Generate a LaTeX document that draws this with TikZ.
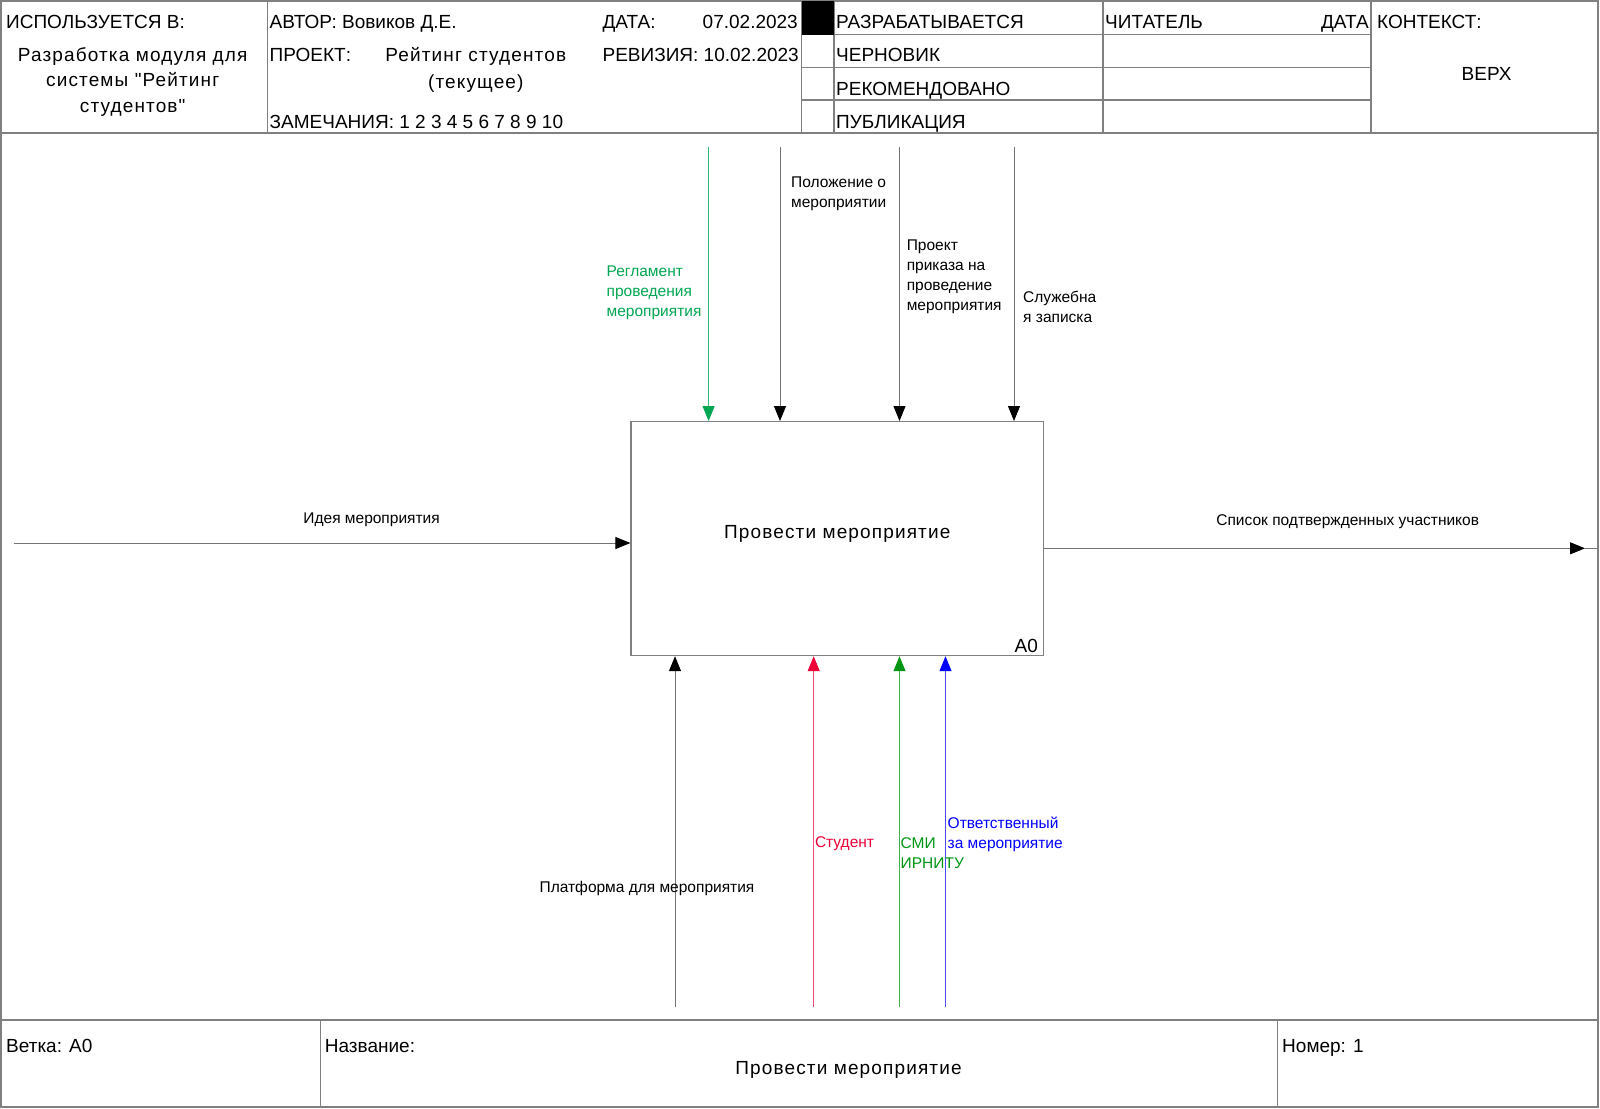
\documentclass[tikz,border=0pt]{standalone}
\usepackage{fontspec}
\setmainfont{Liberation Sans}
\newfontfamily\spacedfont[LetterSpace=6]{Liberation Sans}
\usepackage{tikz}
\usetikzlibrary{arrows.meta,positioning,calc}
\definecolor{reglgreen}{RGB}{0,166,81}
\definecolor{smigreen}{RGB}{0,150,20}
\definecolor{studred}{RGB}{235,0,55}
\definecolor{otvblue}{RGB}{0,0,255}
\tikzstyle{rule}=[draw=black!50,line width=1.2pt]
\tikzstyle{head}=[font=\fontsize{19}{25.5}\selectfont,inner sep=0pt,anchor=base west]
\tikzstyle{headwide}=[font=\fontsize{19}{25.5}\spacedfont,inner sep=0pt,align=center]
\tikzstyle{lbl}=[font=\fontsize{15.5}{20}\selectfont,inner sep=0pt,align=left]
\tikzstyle{func}=[draw=black!50,line width=1.2pt,minimum width=412.5pt,minimum height=234pt,inner sep=0pt]
\tikzstyle{flow}=[draw=black!55,line width=1pt,-{Triangle[length=15pt,width=12pt,color=black]}]
\tikzstyle{titletext}=[font=\fontsize{19}{22}\spacedfont,inner sep=0pt]

\begin{document}
\begin{tikzpicture}[x=1pt,y=-1pt]
\useasboundingbox (0,0) rectangle (1600,1108);
\fill[white] (0,0) rectangle (1600,1108);
\draw[rule] (1,1) rectangle (1598,1107);
\draw[rule] (1,133) -- (1598,133);
\foreach \cx in {267.5,801.5,834,1103,1371}
  \draw[rule] (\cx,1) -- (\cx,133);
\foreach \ry in {34.7,67.4,100}
  \draw[rule] (801.5,\ry) -- (1371,\ry);
\fill[black] (801.5,1) rectangle (834,34.7);
\draw[rule] (1,1020) -- (1598,1020);
\draw[rule] (320.6,1020) -- (320.6,1107);
\draw[rule] (1277.5,1020) -- (1277.5,1107);

\node[head] (usedin) at (6,28.5) {ИСПОЛЬЗУЕТСЯ В:};
\node[headwide] (usedname) at (132.7,81.8) {Разработка модуля для\\системы "Рейтинг\\студентов"};
\node[head] (author) at (269.5,28.5) {АВТОР: Вовиков Д.Е.};
\node[head] (date) at (602.4,28.5) {ДАТА:};
\node[head,anchor=base east] (dateval) at (798,28.5) {07.02.2023};
\node[head] (project) at (269.5,62) {ПРОЕКТ:};
\node[headwide,font=\fontsize{19}{26.5}\spacedfont] (projname) at (475.8,70) {Рейтинг студентов\\(текущее)};
\node[head] (revision) at (602.4,62) {РЕВИЗИЯ: 10.02.2023};
\node[head] (notes) at (269.5,128.5) {ЗАМЕЧАНИЯ: 1 2 3 4 5 6 7 8 9 10};
\node[head] (working) at (836,28.5) {РАЗРАБАТЫВАЕТСЯ};
\node[head] (draft) at (836,62) {ЧЕРНОВИК};
\node[head] (recommended) at (836,95) {РЕКОМЕНДОВАНО};
\node[head] (publication) at (836,128.5) {ПУБЛИКАЦИЯ};
\node[head] (reader) at (1105,28.5) {ЧИТАТЕЛЬ};
\node[head,anchor=base east] (readerdate) at (1369,28.5) {ДАТА};
\node[head] (context) at (1377,28.5) {КОНТЕКСТ:};
\node[head,anchor=base] (top) at (1486.6,80.5) {ВЕРХ};

\node[func] (box) at (837.25,538.6) {};
\node[titletext] (boxtitle) at ([yshift=4.6pt]box.center) {Провести мероприятие};
\node[head,anchor=south east,xshift=-6pt,yshift=3pt] (boxnum) at (box.south east) {A0};

\coordinate (reglin) at (708.6,147);
\coordinate (polozhin) at (780,147);
\coordinate (proektin) at (899.5,147);
\coordinate (sluzhin) at (1014,147);
\draw[flow,draw=reglgreen!80,-{Triangle[length=15pt,width=12pt,color=reglgreen]}] (reglin) -- (reglin |- box.north);
\draw[flow] (polozhin) -- (polozhin |- box.north);
\draw[flow] (proektin) -- (proektin |- box.north);
\draw[flow] (sluzhin) -- (sluzhin |- box.north);

\coordinate (platin) at (675,1006.7);
\coordinate (studin) at (813.7,1006.7);
\coordinate (smiin) at (899.5,1006.7);
\coordinate (otvin) at (945.5,1006.7);
\draw[flow] (platin) -- (platin |- box.south);
\draw[flow,draw=studred!70,-{Triangle[length=15pt,width=12pt,color=studred]}] (studin) -- (studin |- box.south);
\draw[flow,draw=smigreen!75,-{Triangle[length=15pt,width=12pt,color=smigreen]}] (smiin) -- (smiin |- box.south);
\draw[flow,draw=otvblue!70,-{Triangle[length=15pt,width=12pt,color=otvblue]}] (otvin) -- (otvin |- box.south);

\coordinate (ideain) at (14.3,543);
\draw[flow] (ideain) -- (ideain -| box.west);
\coordinate (spisokout) at (1585,548.3);
\coordinate (rim) at (1598,548.3);
\draw[flow] (spisokout -| box.east) -- (spisokout);
\draw[draw=black!55,line width=1pt] (spisokout) -- (rim);

\node[lbl] (idea) at (371.6,519.6) {Идея мероприятия};
\node[lbl] (spisok) at (1347.7,521.7) {Список подтвержденных участников};
\node[lbl,anchor=west,text=reglgreen] (regl) at (606.5,292.3) {Регламент\\проведения\\мероприятия};
\node[lbl,anchor=west] (polozh) at (791,193.4) {Положение о\\мероприятии};
\node[lbl,anchor=west] (proekt) at (906.6,277) {Проект\\приказа на\\проведение\\мероприятия};
\node[lbl,anchor=west] (sluzh) at (1023,306.8) {Служебна\\я записка};
\node[lbl] (platforma) at (647,888) {Платформа для мероприятия};
\node[lbl,anchor=west,text=studred] (student) at (814.8,844) {Студент};
\node[lbl,anchor=west,text=smigreen] (smi) at (900.5,853.5) {СМИ\\ИРНИТУ};
\node[lbl,anchor=west,text=otvblue] (otv) at (947.5,834.5) {Ответственный\\за мероприятие};

\node[head] (branch) at (6,1052.5) {Ветка: A0};
\node[head] (name) at (324.7,1052.5) {Название:};
\node[head] (number) at (1282,1052.5) {Номер: 1};
\node[titletext] (nametitle) at (848.5,1070) {Провести мероприятие};
\end{tikzpicture}
\end{document}
